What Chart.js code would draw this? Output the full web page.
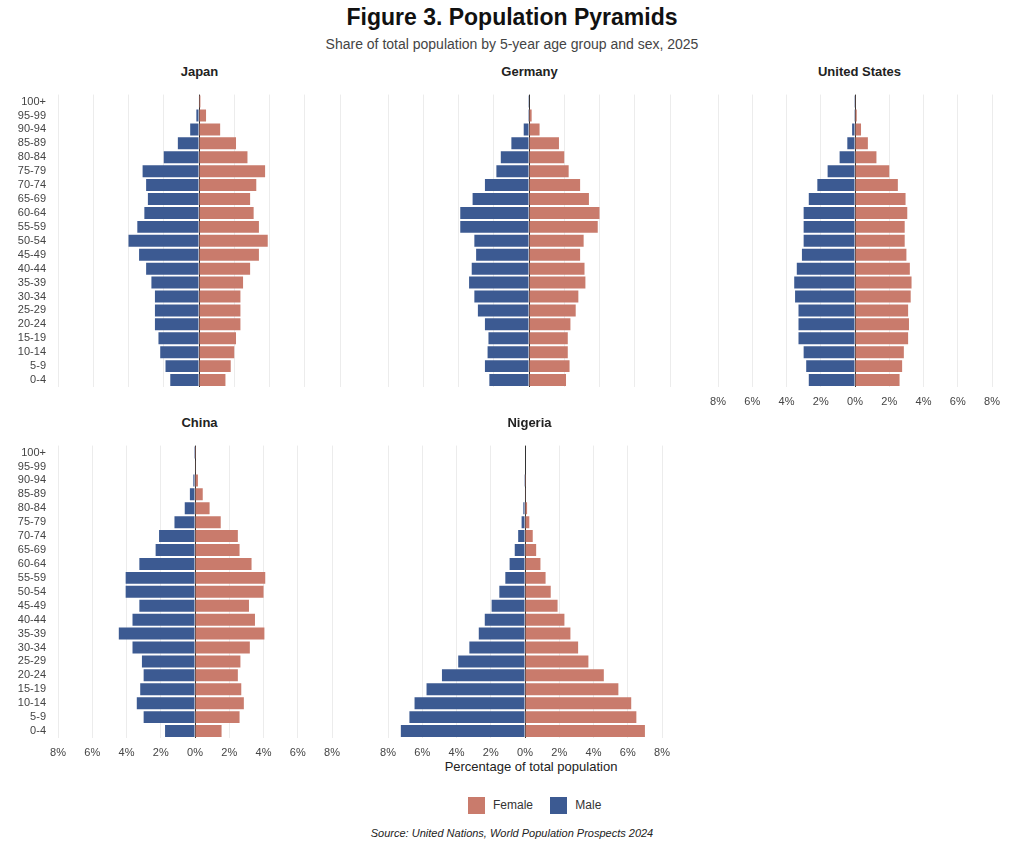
<!DOCTYPE html>
<html>
<head>
<meta charset="utf-8">
<script src="https://cdn.jsdelivr.net/npm/chart.js@4"></script>
<style>
  body { margin: 0; width: 1024px; height: 849px; background: #fff; font-family: "Liberation Sans", Arial, sans-serif; position: relative; overflow: hidden; }
  .abs { position: absolute; }
  #title { top: 4px; width: 100%; text-align: center; font-size: 23px; font-weight: bold; color: #111; }
  #subtitle { top: 36px; width: 100%; text-align: center; font-size: 14px; color: #444; }
  .ptitle { font-size: 13px; font-weight: bold; color: #222; width: 283px; text-align: center; }
  #xlabel { top: 759px; left: 388px; width: 286px; text-align: center; font-size: 13px; color: #222; }
  #legend { top: 797px; left: 468px; font-size: 12px; color: #333; }
  #legend span.box { display: inline-block; width: 17px; height: 17px; vertical-align: middle; margin-right: 8px; }
  #legend span.item { margin-right: 14px; }
  #source { top: 827px; width: 100%; text-align: center; font-size: 11px; font-style: italic; color: #222; }
  canvas { position: absolute; }
</style>
</head>
<body>
<div id="title" class="abs">Figure 3. Population Pyramids</div>
<div id="subtitle" class="abs">Share of total population by 5-year age group and sex, 2025</div>
<div id="xlabel" class="abs">Percentage of total population</div>
<div id="legend" class="abs">
  <span class="item"><span class="box" style="background:#c97b6c"></span>Female</span>
  <span class="item"><span class="box" style="background:#3c5a92"></span>Male</span>
</div>
<div id="source" class="abs">Source: United Nations, World Population Prospects 2024</div>

<script>
// Age groups, youngest first
const ageGroups = ['0-4','5-9','10-14','15-19','20-24','25-29','30-34','35-39','40-44','45-49',
  '50-54','55-59','60-64','65-69','70-74','75-79','80-84','85-89','90-94','95-99','100+'];

const japanMale   = [1.63,1.9,2.2,2.3,2.5,2.5,2.5,2.7,3.0,3.4,4.0,3.5,3.1,2.9,3.0,3.2,2.0,1.2,0.5,0.15,0.03];
const japanFemale = [1.5,1.8,2.0,2.1,2.35,2.35,2.35,2.5,2.9,3.4,3.9,3.4,3.1,2.9,3.25,3.75,2.75,2.1,1.2,0.4,0.08];
const germanyMale   = [2.25,2.5,2.35,2.3,2.5,2.9,3.1,3.4,3.25,3.0,3.1,3.9,3.9,3.2,2.5,1.85,1.6,1.0,0.3,0.05,0.01];
const germanyFemale = [2.1,2.3,2.2,2.2,2.35,2.65,2.8,3.2,3.15,2.9,3.1,3.9,4.0,3.4,2.9,2.25,2.0,1.7,0.6,0.15,0.03];
const usMale   = [2.7,2.85,3.0,3.3,3.3,3.3,3.5,3.55,3.4,3.1,3.0,3.0,3.0,2.7,2.2,1.6,0.9,0.45,0.17,0.05,0.01];
const usFemale = [2.6,2.75,2.85,3.1,3.15,3.1,3.25,3.3,3.2,3.0,2.9,2.9,3.05,2.95,2.5,2.0,1.25,0.75,0.35,0.1,0.02];
const chinaMale   = [1.75,3.0,3.4,3.2,3.0,3.1,3.65,4.45,3.65,3.25,4.05,4.05,3.25,2.3,2.1,1.2,0.6,0.3,0.1,0.03,0.005];
const chinaFemale = [1.55,2.6,2.85,2.7,2.5,2.65,3.2,4.05,3.5,3.15,4.0,4.1,3.3,2.6,2.5,1.5,0.85,0.45,0.17,0.04,0.01];
const nigeriaMale   = [7.25,6.75,6.45,5.75,4.85,3.9,3.25,2.7,2.35,1.95,1.5,1.15,0.9,0.6,0.4,0.2,0.1,0.03,0.01,0,0];
const nigeriaFemale = [7.0,6.5,6.2,5.45,4.6,3.7,3.1,2.65,2.3,1.9,1.5,1.2,0.9,0.65,0.45,0.25,0.12,0.04,0.01,0,0];

const xTicks = [-8,-6,-4,-2,0,2,4,6,8];

const panels = [
  { name: 'Japan', male: japanMale, female: japanFemale, col: 0, row: 0, yLabels: true, xLabels: false },
  { name: 'Germany', male: germanyMale, female: germanyFemale, col: 1, row: 0, yLabels: false, xLabels: false },
  { name: 'United States', male: usMale, female: usFemale, col: 2, row: 0, yLabels: false, xLabels: true },
  { name: 'China', male: chinaMale, female: chinaFemale, col: 0, row: 1, yLabels: true, xLabels: true },
  { name: 'Nigeria', male: nigeriaMale, female: nigeriaFemale, col: 1, row: 1, yLabels: false, xLabels: true }
];

const FEMALE = '#c97b6c';
const MALE = '#3c5a92';

panels.forEach(function(p) {
  const left = 13 + 330 * p.col;
  const top = p.row === 0 ? 84 : 435;

  const t = document.createElement('div');
  t.className = 'abs ptitle';
  t.style.left = (left + 45) + 'px';
  t.style.top = (top - 20) + 'px';
  t.textContent = p.name;
  document.body.appendChild(t);

  const c = document.createElement('canvas');
  c.style.left = left + 'px';
  c.style.top = top + 'px';
  c.style.width = '335px';
  c.style.height = '327px';
  c.width = 335; c.height = 327;
  document.body.appendChild(c);

  new Chart(c.getContext('2d'), {
    type: 'bar',
    data: {
      labels: ageGroups,
      datasets: [
        { label: 'Male', data: p.male.map(v => -v), backgroundColor: MALE, barPercentage: 0.86, categoryPercentage: 1 },
        { label: 'Female', data: p.female, backgroundColor: FEMALE, barPercentage: 0.86, categoryPercentage: 1 }
      ]
    },
    options: {
      indexAxis: 'y',
      responsive: false,
      animation: false,
      layout: { padding: { left: 0, right: 4, top: 0, bottom: 0 } },
      plugins: { legend: { display: false }, tooltip: { enabled: false } },
      scales: {
        x: {
          stacked: true,
          min: -8, max: 8,
          afterBuildTicks: axis => { axis.ticks = xTicks.map(v => ({ value: v })); },
          afterFit: axis => { axis.height = 24; },
          border: { display: false },
          grid: {
            color: ctx => ctx.tick && ctx.tick.value === 0 ? '#333' : '#ececec',
            lineWidth: 1,
            drawTicks: false
          },
          ticks: {
            padding: 8,
            color: '#444',
            maxRotation: 0,
            font: { size: 11, family: '"Liberation Sans", Arial, sans-serif' },
            callback: v => p.xLabels ? Math.abs(v) + '%' : ''
          }
        },
        y: {
          stacked: true,
          reverse: true,
          afterFit: axis => { axis.width = 45; },
          border: { display: false },
          grid: { display: false },
          ticks: {
            autoSkip: false,
            color: '#444',
            padding: 4,
            font: { size: 11, family: '"Liberation Sans", Arial, sans-serif' },
            callback: function(v, i) { return p.yLabels ? ageGroups[i] : ''; }
          }
        }
      }
    }
  });
});
</script>
</body>
</html>
